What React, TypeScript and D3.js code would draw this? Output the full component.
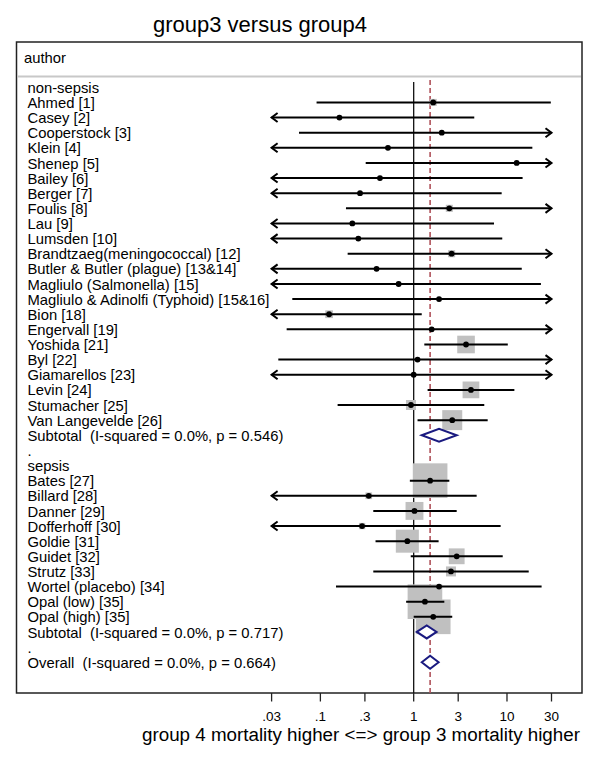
import React from 'react';
import * as d3 from 'd3';

const titleText = 'group3 versus group4';
const headerText = 'author';
const axisTitle = 'group 4 mortality higher <=> group 3 mortality higher';
const tickValues = [0.03, 0.1, 0.3, 1, 3, 10, 30];
const tickLabels = ['.03', '.1', '.3', '1', '3', '10', '30'];

// all rows, top to bottom
const rowLabels = [
  'non-sepsis', 'Ahmed [1]', 'Casey [2]', 'Cooperstock [3]', 'Klein [4]', 'Shenep [5]', 'Bailey [6]',
  'Berger [7]', 'Foulis [8]', 'Lau [9]', 'Lumsden [10]', 'Brandtzaeg(meningococcal) [12]',
  'Butler & Butler (plague) [13&14]', 'Magliulo (Salmonella) [15]', 'Magliulo & Adinolfi (Typhoid) [15&16]',
  'Bion [18]', 'Engervall [19]', 'Yoshida [21]', 'Byl [22]', 'Giamarellos [23]', 'Levin [24]',
  'Stumacher [25]', 'Van Langevelde [26]', 'Subtotal  (I-squared = 0.0%, p = 0.546)', '.',
  'sepsis', 'Bates [27]', 'Billard [28]', 'Danner [29]', 'Dofferhoff [30]', 'Goldie [31]', 'Guidet [32]',
  'Strutz [33]', 'Wortel (placebo) [34]', 'Opal (low) [35]', 'Opal (high) [35]',
  'Subtotal  (I-squared = 0.0%, p = 0.717)', '.', 'Overall  (I-squared = 0.0%, p = 0.664)',
];

// studies (row index in rowLabels)
const studyRows = [1, 2, 3, 4, 5, 6, 7, 8, 9, 10, 11, 12, 13, 14, 15, 16, 17, 18, 19, 20, 21, 22,
  26, 27, 28, 29, 30, 31, 32, 33, 34, 35];
const studyEst = [1.62, 0.16, 2.0, 0.53, 12.7, 0.435, 0.266, 2.41, 0.22, 0.255, 2.55, 0.40, 0.69, 1.87,
  0.124, 1.56, 3.64, 1.10, 1.0, 4.11, 0.935, 2.59,
  1.50, 0.33, 1.02, 0.28, 0.855, 2.89, 2.51, 1.87, 1.32, 1.62];
const studyLo = [0.091, 0.01, 0.059, 0.01, 0.306, 0.01, 0.01, 0.188, 0.01, 0.01, 0.196, 0.01, 0.01, 0.05,
  0.01, 0.0435, 1.30, 0.0354, 0.01, 1.41, 0.153, 1.10,
  0.91, 0.01, 0.369, 0.01, 0.39, 0.93, 0.369, 0.147, 0.83, 1.0];
const studyHi = [29.5, 4.46, 100, 18.7, 100, 14.7, 8.77, 100, 7.26, 8.9, 100, 14.4, 23.1, 100,
  1.22, 100, 10.2, 100, 100, 12.0, 5.71, 6.21,
  2.41, 4.73, 2.89, 8.55, 1.85, 9.0, 17.1, 23.5, 2.13, 2.59];
const studyWeight = [0.5, 0.2, 0.2, 0.2, 0.2, 0.2, 0.2, 0.5, 0.2, 0.2, 0.5, 0.2, 0.2, 0.2,
  0.6, 0.2, 3.1, 0.2, 0.1, 2.8, 1.0, 4.0,
  12.0, 0.45, 3.2, 0.4, 5.3, 2.5, 1.0, 0.2, 12.0, 12.0];

// pooled estimates
const pooledRows = [23, 36, 38];
const pooledEst = [1.87, 1.38, 1.5];
const pooledLo = [1.22, 1.08, 1.22];
const pooledHi = [2.89, 1.76, 1.85];
const overallEst = 1.5;

const FONT = 'Liberation Sans, Arial, Helvetica, sans-serif';

export default function App() {
  const W = 600, H = 765;
  const xMin = 0.03, xMax = 30;
  const x = d3.scaleLog().domain([xMin, xMax]).range([271.6, 551.5]);
  const y = d3.scaleLinear().domain([0, 38]).range([87.3, 662.2]);
  const boxSide = (w: number) => 10 * Math.sqrt(w);

  const frame = { l: 16.5, r: 582, t: 42, b: 693 };
  const headerY = 76.5;

  return (
    <svg width={W} height={H} style={{ position: 'absolute', left: 0, top: 0, background: '#fff' }}
      fontFamily={FONT}>
      <rect x={0} y={0} width={W} height={H} fill="#fff" />
      <text x={260} y={32} fontSize={22} textAnchor="middle" fill="#000">{titleText}</text>

      {/* frame */}
      <rect x={frame.l} y={frame.t} width={frame.r - frame.l} height={frame.b - frame.t}
        fill="none" stroke="#222" strokeWidth={1.5} />
      <line x1={frame.l + 1} x2={frame.r - 1} y1={headerY} y2={headerY} stroke="#c8c8c8" strokeWidth={2} />
      <text x={24} y={63} fontSize={14.8} fill="#000">{headerText}</text>

      {/* reference lines */}
      <line x1={x(1)} x2={x(1)} y1={82} y2={frame.b} stroke="#111" strokeWidth={1.3} />
      <line x1={x(overallEst)} x2={x(overallEst)} y1={80} y2={frame.b} stroke="#b0525a"
        strokeWidth={1.6} strokeDasharray="5,3" />

      {/* row labels */}
      {rowLabels.map((lab, i) => (
        <text key={'l' + i} x={27.5} y={y(i) + 5.6} fontSize={14.8} fill="#000"
          style={{ whiteSpace: 'pre' }} xmlSpace="preserve">{lab}</text>
      ))}

      {/* weight boxes */}
      {studyRows.map((r, i) => {
        const s = boxSide(studyWeight[i]);
        return <rect key={'b' + i} x={x(studyEst[i]) - s / 2} y={y(r) - s / 2} width={s} height={s}
          fill="#c0c0c0" />;
      })}

      {/* CI lines with arrows */}
      {studyRows.map((r, i) => {
        const lo = Math.max(studyLo[i], xMin);
        const hi = Math.min(studyHi[i], xMax);
        const yy = y(r);
        const x1 = x(lo), x2 = x(hi);
        return (
          <g key={'c' + i} stroke="#000" strokeWidth={2} fill="none">
            <line x1={x1} x2={x2} y1={yy} y2={yy} />
            {studyLo[i] < xMin && <path d={`M${x1 + 6},${yy - 4.5}L${x1},${yy}L${x1 + 6},${yy + 4.5}`} />}
            {studyHi[i] > xMax && <path d={`M${x2 - 6},${yy - 4.5}L${x2},${yy}L${x2 - 6},${yy + 4.5}`} />}
          </g>
        );
      })}

      {/* point estimates */}
      {studyRows.map((r, i) => (
        <circle key={'p' + i} cx={x(studyEst[i])} cy={y(r)} r={2.9} fill="#000" />
      ))}

      {/* diamonds */}
      {pooledRows.map((r, i) => {
        const yy = y(r);
        return <path key={'d' + i}
          d={`M${x(pooledLo[i])},${yy}L${x(pooledEst[i])},${yy - 6.5}L${x(pooledHi[i])},${yy}L${x(pooledEst[i])},${yy + 6.5}Z`}
          fill="#fff" stroke="#1a1a80" strokeWidth={2} />;
      })}

      {/* x axis */}
      {tickValues.map((t, i) => (
        <g key={'t' + i}>
          <line x1={x(t)} x2={x(t)} y1={frame.b} y2={frame.b + 8.5} stroke="#222" strokeWidth={1.3} />
          <text x={x(t)} y={721} fontSize={13.5} textAnchor="middle" fill="#000">{tickLabels[i]}</text>
        </g>
      ))}
      <text x={361} y={741} fontSize={18.8} textAnchor="middle" fill="#000">{axisTitle}</text>
    </svg>
  );
}
